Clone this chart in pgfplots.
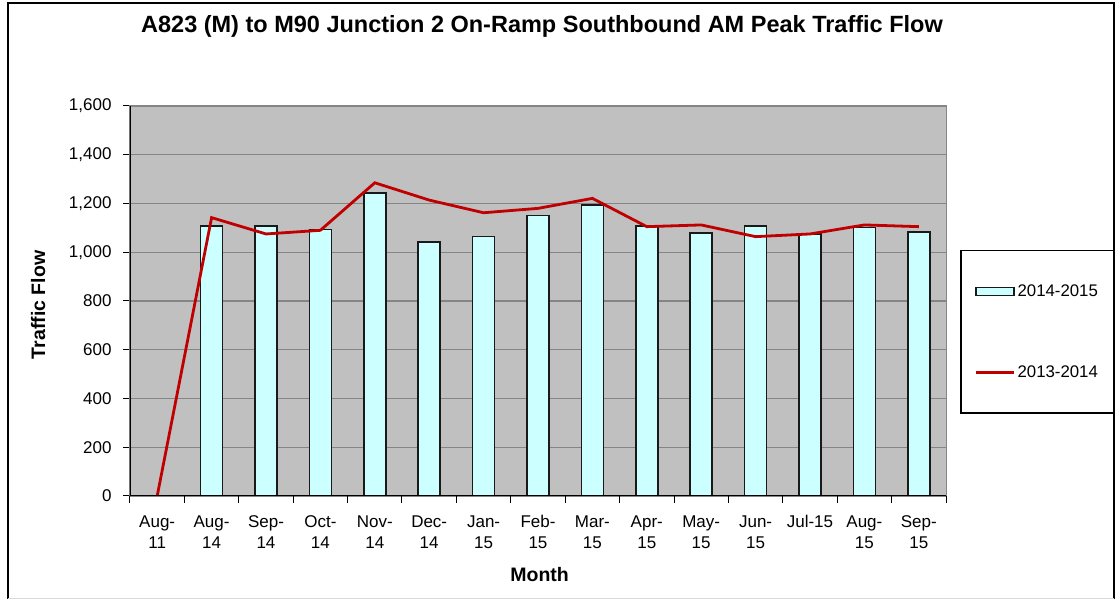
\documentclass[border=0pt]{standalone}
\usepackage{fontspec}
\setmainfont{Liberation Sans}
\usepackage{pgfplots}
\pgfplotsset{compat=1.18}
\definecolor{plotbg}{HTML}{C0C0C0}
\definecolor{barfill}{HTML}{CCFFFF}
\definecolor{linered}{HTML}{C00000}
\definecolor{gridgray}{HTML}{858585}
\pgfplotsset{
  barleg/.style={legend image code/.code={\draw[##1] (0pt,-4pt) rectangle (38pt,4pt);}},
  lineleg/.style={legend image code/.code={\draw[##1] (0pt,0pt) -- (38pt,0pt);}},
}

\begin{document}
\begin{tikzpicture}
\path[use as bounding box] (-130pt,-105pt) rectangle (990pt,496pt);
\draw[black, line width=1.5pt] (-122pt,-103pt) -- (-122pt,493pt) -- (984pt,493pt) -- (984pt,-103pt);
\draw[black!15, line width=1pt] (-122pt,-103pt) -- (984pt,-103pt);
\begin{axis}[
  at={(0pt,0pt)}, anchor=south west,
  width=816pt, height=390pt, scale only axis,
  xmin=-0.5, xmax=14.5, ymin=0, ymax=1600,
  ytick={0,200,...,1600},
  xtick={0,...,14},
  xtick pos=bottom, ytick pos=left,
  xticklabels={{Aug-\\11},{Aug-\\14},{Sep-\\14},{Oct-\\14},{Nov-\\14},{Dec-\\14},{Jan-\\15},{Feb-\\15},{Mar-\\15},{Apr-\\15},{May-\\15},{Jun-\\15},{Jul-15\\ },{Aug-\\15},{Sep-\\15}},
  xticklabel style={align=center, yshift=-9pt, font=\fontsize{17}{21}\selectfont},
  yticklabel style={xshift=-8pt, font=\fontsize{17}{20}\selectfont},
  /pgf/number format/assume math mode=true,
  /pgf/number format/1000 sep={,},
  major x tick style={draw=none},
  minor xtick={-0.5,0.5,...,14.5},
  tick align=outside, major tick length=7pt, minor tick length=7pt,
  tick style={black, line width=1pt},
  ymajorgrids,
  y grid style={gridgray, line width=1.2pt},
  axis background/.style={fill=plotbg},
  axis line style={gridgray, line width=1pt},
  title={A823 (M) to M90 Junction 2 On-Ramp Southbound AM Peak Traffic Flow},
  title style={at={(axis description cs:0.5,1)}, anchor=center, yshift=74pt, xshift=4pt, font=\fontsize{23.5}{28}\selectfont\bfseries},
  xlabel={Month},
  xlabel style={at={(axis description cs:0.502,-0.2026)}, anchor=center, font=\fontsize{19.5}{23}\selectfont\bfseries},
  ylabel={Traffic Flow},
  ylabel style={at={(axis description cs:-0.1127,0.49)}, anchor=center, font=\fontsize{19.5}{23}\selectfont\bfseries},
  legend style={at={(rel axis cs:1.0172,0.631)}, anchor=north west, draw=black, line width=1.5pt, fill=white,
    font=\fontsize{16.8}{20}\selectfont, inner xsep=14pt, inner ysep=32pt, row sep=64pt},
  legend cell align=left,
]
\addplot[ybar, bar width=22pt, fill=barfill, draw=black!90, line width=1.5pt, barleg]
  coordinates {(1,1108) (2,1108) (3,1094) (4,1244) (5,1043) (6,1065) (7,1150)
               (8,1194) (9,1108) (10,1078) (11,1108) (12,1074) (13,1101) (14,1084)};
\addlegendentry{2014-2015}
\addplot[sharp plot, linered, line width=2.8pt, mark=none, lineleg]
  coordinates {(0,0) (1,1142) (2,1075) (3,1090) (4,1285) (5,1214) (6,1162) (7,1180)
               (8,1221) (9,1105) (10,1112) (11,1064) (12,1075) (13,1112) (14,1105)};
\addlegendentry{2013-2014}
\draw[black, line width=1.2pt] (rel axis cs:0,1) -- (rel axis cs:0,0) -- (rel axis cs:1,0);
\end{axis}
\end{tikzpicture}
\end{document}
